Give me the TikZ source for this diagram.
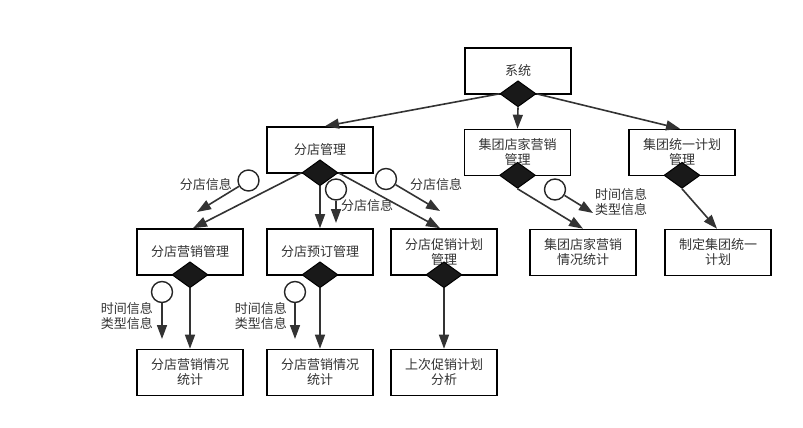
\documentclass[tikz,border=0pt]{standalone}
\usepackage{fontspec}
\newfontfamily\cjk{Noto Sans CJK SC}
\usetikzlibrary{arrows.meta, shapes.geometric}

\begin{document}
\begin{tikzpicture}[x=1pt, y=-1pt,
    font=\cjk\fontsize{13}{15}\selectfont,
    box/.style={draw=black, line width=1.6pt, fill=white, minimum width=106pt, minimum height=46pt, inner sep=1pt, align=center, text=black!80},
    gate/.style={diamond, draw=black, fill=black!90, line width=1pt, minimum width=36pt, minimum height=26pt, inner sep=0pt},
    flag/.style={circle, draw=black!85, fill=white, line width=1.4pt, minimum size=21pt, inner sep=0pt},
    link/.style={-{Triangle[length=14pt,width=10pt]}, line width=1.6pt, black!80},
    tag/.style={align=center, inner sep=0pt, text=black!80}
]
\useasboundingbox (0,0) rectangle (803,428);

% Boxes
\node[box] (sys) at (518,71) {系统};
\node[box] (fd) at (320,150) {分店管理};
\node[box] (jt) at (517.5,152.5) {集团店家营销\\管理};
\node[box] (ty) at (682,152.5) {集团统一计划\\管理};
\node[box] (yx) at (190,252) {分店营销管理};
\node[box] (yd) at (320,252) {分店预订管理};
\node[box] (cx) at (444,252) {分店促销计划\\管理};
\node[box] (jtt) at (583,252.5) {集团店家营销\\情况统计};
\node[box] (zd) at (718,252.5) {制定集团统一\\计划};
\node[box] (yxt) at (190,372.5) {分店营销情况\\统计};
\node[box] (ydt) at (320,372.5) {分店营销情况\\统计};
\node[box] (cxt) at (444,372.5) {上次促销计划\\分析};

% Diamonds on the bottom edges
\foreach \n in {sys,fd,jt,ty,yx,yd,cx} {
    \node[gate] (g\n) at ([yshift=1pt]\n.south) {};
}

% Tree links
\draw[link] (gsys.west) -- ([xshift=5pt]fd.north);
\draw[link] (gsys.south) -- (jt.north);
\draw[link] (gsys.east) -- ([xshift=-2pt]ty.north);
\draw[link] (gfd.west) -- ([xshift=3pt]yx.north);
\draw[link] (gfd.south) -- (yd.north);
\draw[link] (gfd.east) -- ([xshift=-4pt]cx.north);
\draw[link] (gjt.south) -- (jtt.north);
\draw[link] (gty.south) -- ([xshift=-1pt]zd.north);
\draw[link] (gyx.south) -- (yxt.north);
\draw[link] (gyd.south) -- (ydt.north);
\draw[link] (gcx.south) -- (cxt.north);

% Data flags
\node[flag] (f1) at (248.5,180.5) {};
\node[flag] (f2) at (336,189.5) {};
\node[flag] (f3) at (386,179) {};
\node[flag] (f4) at (555,189.5) {};
\node[flag] (f5) at (162,292) {};
\node[flag] (f6) at (295,292) {};
\coordinate (f1e) at (197,212);
\coordinate (f2e) at (336,223);
\coordinate (f3e) at (440,211);
\coordinate (f4e) at (593,213);
\coordinate (f5e) at (162,339);
\coordinate (f6e) at (295,339);
\foreach \i in {1,...,6} {
    \draw[link] (f\i) -- (f\i e);
}

% Labels
\node[tag, anchor=east] (l1) at (232,185) {分店信息};
\node[tag, anchor=west] (l2) at (341,206) {分店信息};
\node[tag, anchor=west] (l3) at (410,185) {分店信息};
\node[tag, anchor=west] (l4) at (595,202) {时间信息\\类型信息};
\node[tag, anchor=east] (l5) at (153,316) {时间信息\\类型信息};
\node[tag, anchor=east] (l6) at (287,316) {时间信息\\类型信息};
\end{tikzpicture}
\end{document}
